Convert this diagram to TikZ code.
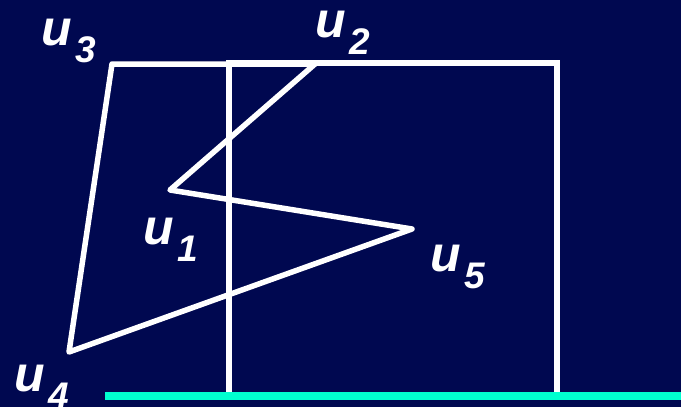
\documentclass[tikz,border=0pt]{standalone}
\usepackage{fontspec}
\setmainfont{Liberation Sans}
\definecolor{bg}{RGB}{0,8,80}
\definecolor{cy}{RGB}{0,255,208}
\tikzset{
  wline/.style={draw=white,line width=5.5pt,line join=round},
  lab/.style={text=white,inner sep=0pt,anchor=base west,font=\bfseries\itshape\fontsize{50}{50}\selectfont}
}
\newcommand{\ulab}[1]{u\kern 4pt\raisebox{-17pt}{\fontsize{37}{37}\selectfont #1}}
\begin{document}
\begin{tikzpicture}[x=1pt,y=-1pt]
\fill[bg] (0,0) rectangle (681,407);
\useasboundingbox (0,0) rectangle (681,407);
\coordinate (u1) at (170,190);
\coordinate (u2) at (315,64);
\coordinate (u3) at (112,64);
\coordinate (u4) at (69,352);
\coordinate (u5) at (412,229);
\coordinate (rtl) at (229,63);
\coordinate (rbr) at (557,396);
\coordinate (cl) at (105,396);
\coordinate (cr) at (681,396);
\draw[wline,line join=miter] (229,396) -- (rtl) -- (557,63) -- (rbr);
\draw[wline] (u2) -- (u1) -- (u5) -- (u4) -- (u3) -- cycle;
\draw[cy,line width=8pt] (cl) -- (cr);
\node[lab] (l3) at (41,45) {\ulab{3}};
\node[lab] (l2) at (315,37) {\ulab{2}};
\node[lab] (l1) at (143,244) {\ulab{1}};
\node[lab] (l5) at (430,271) {\ulab{5}};
\node[lab] (l4) at (14,391) {\ulab{4}};
\end{tikzpicture}
\end{document}
